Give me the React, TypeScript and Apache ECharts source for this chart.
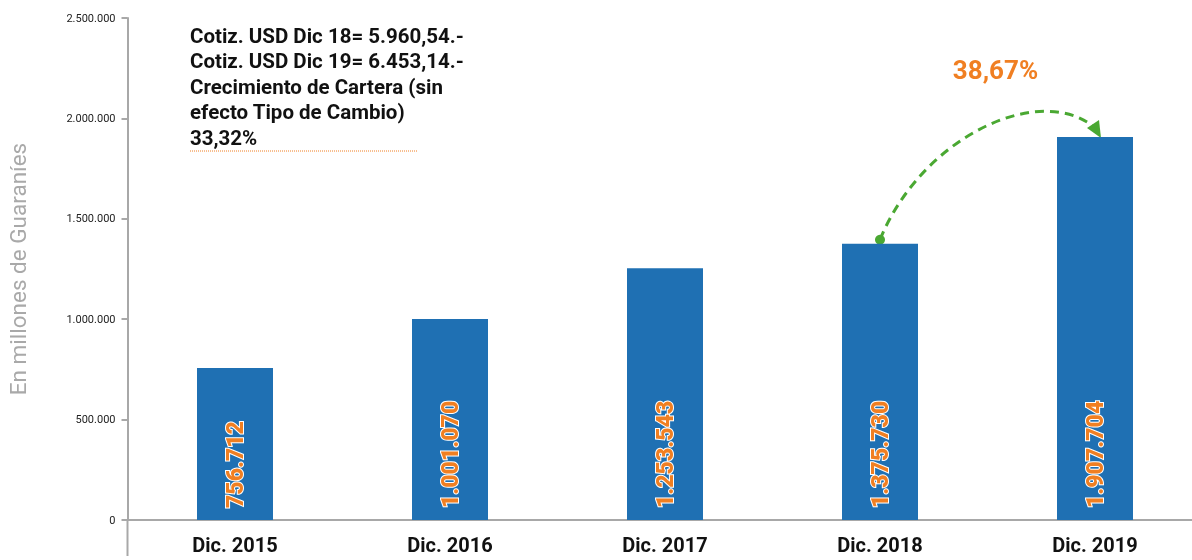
import React, { useEffect, useRef } from 'react';
import * as echarts from 'echarts';

const categories = ['Dic. 2015', 'Dic. 2016', 'Dic. 2017', 'Dic. 2018', 'Dic. 2019'];
const values = [756712, 1001070, 1253543, 1375730, 1907704];
const yMin = 0;
const yMax = 2500000;
const yInterval = 500000;
const yAxisName = 'En millones de Guaraníes';
const noteLines = [
  'Cotiz. USD Dic 18= 5.960,54.-',
  'Cotiz. USD Dic 19= 6.453,14.-',
  'Crecimiento de Cartera (sin',
  'efecto Tipo de Cambio)',
  '33,32%',
];
const growthLabel = '38,67%';
const growthFrom = 3;
const growthTo = 4;

const fmt = (v: number) => String(Math.round(v)).replace(/\B(?=(\d{3})+(?!\d))/g, '.');

const BLUE = '#1f70b3';
const ORANGE = '#f07f22';
const GREEN = '#4aa832';
const AXIS = '#a8a8a8';
const FONT = 'Roboto';

export default function App() {
  const ref = useRef<HTMLDivElement>(null);
  useEffect(() => {
    if (!ref.current) return;
    const chart = echarts.init(ref.current, null, { renderer: 'svg' });
    chart.setOption({
      animation: false,
      grid: { left: 127.5, width: 1075, top: 18, bottom: 40, containLabel: false, outerBoundsMode: 'none' },
      xAxis: {
        type: 'category',
        data: categories,
        boundaryGap: true,
        axisLine: { lineStyle: { color: AXIS, width: 2 } },
        axisTick: { inside: true, length: 12, lineStyle: { color: AXIS, width: 2 } },
        axisLabel: { color: '#111', fontFamily: FONT, fontWeight: 'bold', fontSize: 20, margin: 15 },
      },
      yAxis: {
        type: 'value',
        min: yMin,
        max: yMax,
        interval: yInterval,
        name: yAxisName,
        nameLocation: 'middle',
        nameGap: 98,
        nameTextStyle: { color: '#a9a9a9', fontFamily: FONT, fontSize: 22.5 },
        axisLine: { show: true, lineStyle: { color: AXIS, width: 2 } },
        axisTick: { show: true, length: 6, lineStyle: { color: AXIS, width: 2 } },
        splitLine: { show: false },
        axisLabel: { color: '#222', fontFamily: FONT, fontSize: 11, margin: 12, formatter: (v: number) => fmt(v) },
      },
      series: [
        {
          type: 'bar',
          data: values,
          barWidth: 76,
          itemStyle: { color: BLUE },
          label: {
            show: true,
            position: 'insideBottom',
            distance: 12,
            rotate: 90,
            align: 'left',
            verticalAlign: 'middle',
            formatter: (p: any) => fmt(p.value),
            color: ORANGE,
            fontFamily: FONT,
            fontWeight: 900,
            fontSize: 23,
            textBorderColor: '#fff',
            textBorderWidth: 2,
          },
        },
      ],
    });

    const p1 = chart.convertToPixel({ seriesIndex: 0 }, [growthFrom, values[growthFrom]]) as number[];
    const p2 = chart.convertToPixel({ seriesIndex: 0 }, [growthTo, values[growthTo]]) as number[];
    const sx = p1[0];
    const sy = p1[1] - 4;
    const tx = p2[0] + 6;
    const ty = p2[1] + 1;
    const ex = tx - 8;
    const ey = ty - 12;
    const origin = chart.convertToPixel({ yAxisIndex: 0 }, 0) as unknown as number;

    chart.setOption({
      graphic: [
        {
          type: 'line',
          shape: { x1: 127.5, y1: origin, x2: 127.5, y2: 556 },
          style: { stroke: AXIS, lineWidth: 2 },
        },
        {
          type: 'text',
          left: 190,
          top: 23,
          style: {
            text: noteLines.join('\n'),
            fontFamily: FONT,
            fontWeight: 'bold',
            fontSize: 20.5,
            lineHeight: 25.5,
            fill: '#111',
          },
        },
        {
          type: 'line',
          shape: { x1: 190, y1: 151, x2: 417, y2: 151 },
          style: { stroke: ORANGE, lineWidth: 1, lineDash: [1, 1] },
        },
        {
          type: 'text',
          x: (sx + tx) / 2 + 5,
          y: 70,
          style: {
            text: growthLabel,
            fontFamily: FONT,
            fontWeight: 'bold',
            fontSize: 26,
            fill: ORANGE,
            align: 'center',
            verticalAlign: 'middle',
          },
        },
        {
          type: 'bezierCurve',
          shape: { x1: sx, y1: sy, cpx1: sx + 41, cpy1: sy - 101, cpx2: tx - 65, cpy2: ty - 55, x2: ex, y2: ey },
          style: { stroke: GREEN, lineWidth: 3, lineDash: [9, 6], fill: null },
        },
        {
          type: 'polygon',
          shape: { points: [[tx - 14, ty - 10], [tx - 2, ty - 18], [tx, ty]] },
          style: { fill: GREEN },
        },
        {
          type: 'circle',
          shape: { cx: sx, cy: sy, r: 5 },
          style: { fill: GREEN },
        },
      ],
    });

    return () => chart.dispose();
  }, []);
  return <div ref={ref} style={{ position: 'fixed', left: 0, top: 0, width: 1192, height: 560 }} />;
}
